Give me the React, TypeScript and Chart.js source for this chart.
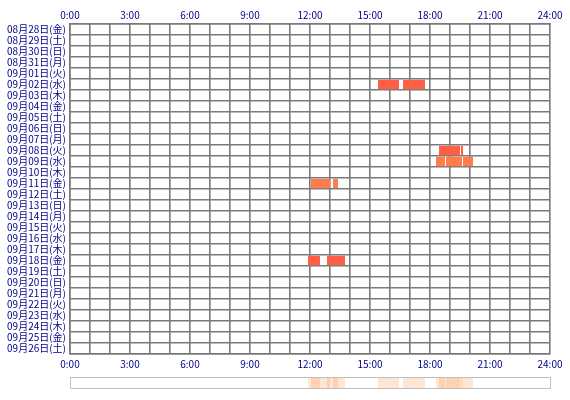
import React, { useEffect, useRef } from "react";
import { Chart, registerables } from "chart.js";

Chart.register(...registerables);

const dayLabels = [
  "08月28日(金)", "08月29日(土)", "08月30日(日)", "08月31日(月)", "09月01日(火)",
  "09月02日(水)", "09月03日(木)", "09月04日(金)", "09月05日(土)", "09月06日(日)",
  "09月07日(月)", "09月08日(火)", "09月09日(水)", "09月10日(木)", "09月11日(金)",
  "09月12日(土)", "09月13日(日)", "09月14日(月)", "09月15日(火)", "09月16日(水)",
  "09月17日(木)", "09月18日(金)", "09月19日(土)", "09月20日(日)", "09月21日(月)",
  "09月22日(火)", "09月23日(水)", "09月24日(木)", "09月25日(金)", "09月26日(土)",
];

const hourTickLabels = ["0:00", "3:00", "6:00", "9:00", "12:00", "15:00", "18:00", "21:00", "24:00"];

// sessions (hours of day)
const sessionDay = [
  "09月02日(水)", "09月02日(水)",
  "09月08日(火)", "09月08日(火)",
  "09月09日(水)", "09月09日(水)", "09月09日(水)",
  "09月11日(金)", "09月11日(金)",
  "09月18日(金)", "09月18日(金)",
];
const sessionStart = [15.4, 16.65, 18.45, 19.55, 18.3, 18.8, 19.65, 12.05, 13.15, 11.9, 12.85];
const sessionEnd = [16.45, 17.75, 19.5, 19.65, 18.75, 19.6, 20.15, 13.0, 13.4, 12.5, 13.75];
const sessionKind = [0, 0, 0, 0, 1, 1, 1, 1, 1, 0, 0];

const palette = ["#ff5f45", "#ff7d4c"];
const labelColor = "#00008b";
const gridColor = "#7a7a7a";
const font = { family: "'Noto Sans CJK JP', 'DejaVu Sans', sans-serif", size: 10 };

const stripPlugin = {
  id: "strip",
  afterDraw(chart: any) {
    const x = chart.scales.x;
    const ctx = chart.ctx;
    const left = x.getPixelForValue(0);
    const right = x.getPixelForValue(24);
    const top = 377;
    const h = 11;
    ctx.save();
    ctx.fillStyle = "rgba(255,135,55,0.22)";
    for (let i = 0; i < sessionStart.length; i++) {
      const a = x.getPixelForValue(sessionStart[i]);
      const b = x.getPixelForValue(sessionEnd[i]);
      ctx.fillRect(a, top + 1, b - a, h - 1);
    }
    ctx.strokeStyle = "#c0c0c0";
    ctx.lineWidth = 1;
    ctx.strokeRect(left + 0.5, top + 0.5, right - left, h);
    ctx.restore();
  },
};

export default function App() {
  const ref = useRef<HTMLCanvasElement>(null);
  useEffect(() => {
    document.body.style.margin = "0";
    const datasets = sessionStart.map((s, i) => ({
      label: "s" + i,
      data: dayLabels.map((d) => (d === sessionDay[i] ? [s, sessionEnd[i]] : null)),
      backgroundColor: palette[sessionKind[i]],
      borderWidth: 0,
      grouped: false,
      barPercentage: 1,
      categoryPercentage: 0.85,
    }));
    const tickCb = (v: any) => {
      const n = Number(v);
      return n % 3 === 0 ? hourTickLabels[n / 3] : "";
    };
    const chart = new Chart(ref.current!, {
      type: "bar",
      data: { labels: dayLabels, datasets: datasets as any },
      plugins: [stripPlugin],
      options: {
        indexAxis: "y",
        animation: false,
        responsive: false,
        layout: { padding: { left: 0, right: 20, top: 0, bottom: 0 } },
        plugins: { legend: { display: false }, tooltip: { enabled: false } },
        scales: {
          x: {
            type: "linear",
            position: "bottom",
            min: 0,
            max: 24,
            afterFit: (s: any) => { s.height = 46; },
            ticks: { stepSize: 1, autoSkip: false, maxRotation: 0, padding: 4, color: labelColor, font, callback: tickCb },
            grid: { color: gridColor, lineWidth: 1.6, drawTicks: false },
            border: { color: gridColor, width: 1.6 },
          },
          x2: {
            type: "linear",
            position: "top",
            min: 0,
            max: 24,
            afterFit: (s: any) => { s.height = 24; },
            ticks: { stepSize: 1, autoSkip: false, maxRotation: 0, padding: 3, color: labelColor, font, callback: tickCb },
            grid: { display: false, drawTicks: false },
            border: { color: gridColor, width: 1.6 },
          },
          y: {
            type: "category",
            afterFit: (s: any) => { s.width = 70; },
            ticks: { autoSkip: false, padding: 4, color: labelColor, font },
            grid: { color: gridColor, lineWidth: 1.6, drawTicks: false },
            border: { color: gridColor, width: 1.6 },
          },
        },
      } as any,
    });
    return () => chart.destroy();
  }, []);
  return (
    <div style={{ width: 570, height: 400 }}>
      <canvas ref={ref} width={570} height={400} />
    </div>
  );
}
